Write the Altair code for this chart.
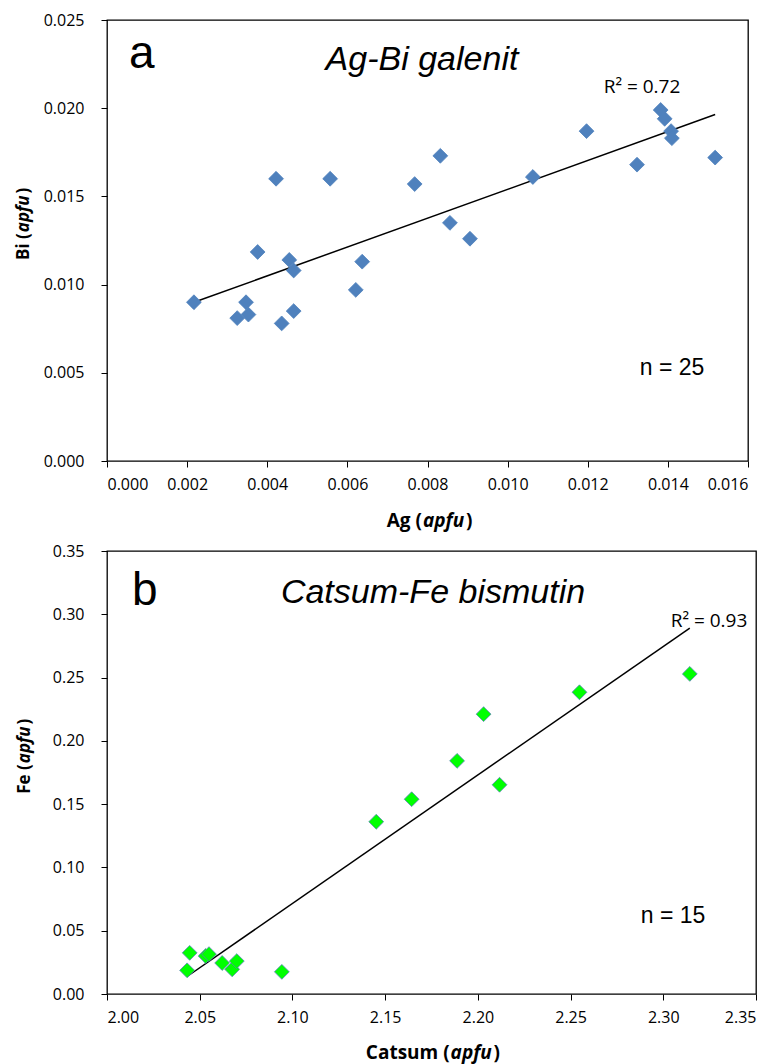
import altair as alt
import pandas as pd

# ---- panel a: Ag-Bi galenit ----
ag = [0.00217, 0.00325, 0.00347, 0.00353, 0.00376, 0.00436, 0.00455, 0.00466,
      0.00466, 0.00621, 0.00637, 0.00906, 0.00422, 0.00557, 0.00768, 0.00832,
      0.00856, 0.01063, 0.01197, 0.01323, 0.01382, 0.01392, 0.01408, 0.01410,
      0.01518]
bi = [0.0090, 0.0081, 0.0090, 0.0083, 0.01185, 0.0078, 0.0114, 0.0108,
      0.0085, 0.0097, 0.0113, 0.0126, 0.0160, 0.0160, 0.0157, 0.0173,
      0.0135, 0.0161, 0.0187, 0.0168, 0.0199, 0.0194, 0.0187, 0.0183,
      0.0172]
ag_ticks = [0.000, 0.002, 0.004, 0.006, 0.008, 0.010, 0.012, 0.014, 0.016]
bi_ticks = [0.000, 0.005, 0.010, 0.015, 0.020, 0.025]

# ---- panel b: Catsum-Fe bismutin ----
catsum = [2.0432, 2.0446, 2.0532, 2.0550, 2.0621, 2.0675, 2.0700, 2.0943,
          2.1452, 2.1643, 2.1888, 2.2031, 2.2117, 2.2548, 2.3143]
fe = [0.0187, 0.0325, 0.0300, 0.0315, 0.0245, 0.0195, 0.0260, 0.0175,
      0.1361, 0.1539, 0.1842, 0.2211, 0.1653, 0.2384, 0.2529]
cs_ticks = [2.00, 2.05, 2.10, 2.15, 2.20, 2.25, 2.30, 2.35]
fe_ticks = [0.00, 0.05, 0.10, 0.15, 0.20, 0.25, 0.30, 0.35]

LBL = "Open Sans"
ARIAL = "Liberation Sans"


def txt(text, x, y, size, font=ARIAL, style="normal", weight="normal",
        align="left", angle=0):
    df = pd.DataFrame({"t": [text]})
    return alt.Chart(df).mark_text(
        font=font, fontSize=size, fontStyle=style, fontWeight=weight,
        align=align, baseline="alphabetic", angle=angle, color="black"
    ).encode(text="t:N", x=alt.value(x), y=alt.value(y))


def axis_title_h(left, ital, right, cx, y, size, w_left, w_ital, w_right):
    start = cx - (w_left + w_ital + w_right) / 2
    p = start + w_left
    return [
        txt(left, p, y, size, font=LBL, weight="bold", align="right"),
        txt(ital, p + 1, y, size, font=LBL, weight="bold", style="italic"),
        txt(right, p + w_ital + 2, y, size, font=LBL, weight="bold"),
    ]


def axis_title_v(left, ital, right, x, cy, size, w_left, w_ital, w_right):
    start = cy + (w_left + w_ital + w_right) / 2
    q = start - w_left
    return [
        txt(left, x, q, size, font=LBL, weight="bold", align="right", angle=270),
        txt(ital, x, q - 1, size, font=LBL, weight="bold", style="italic",
            align="left", angle=270),
        txt(right, x, q - w_ital - 2, size, font=LBL, weight="bold",
            align="left", angle=270),
    ]


def panel(df, xf, yf, xdom, ydom, xt, yt, fx, fy, w, h, fill, stroke, ann):
    base = alt.Chart(df)
    xenc = alt.X(f"{xf}:Q", scale=alt.Scale(domain=xdom, nice=False, zero=False),
                 axis=alt.Axis(values=xt, format=fx, title=None, labelPadding=9))
    yenc = alt.Y(f"{yf}:Q", scale=alt.Scale(domain=ydom, nice=False, zero=False),
                 axis=alt.Axis(values=yt, format=fy, title=None, labelPadding=17))
    line = base.transform_regression(xf, yf).mark_line(
        color="black", strokeWidth=1.5).encode(x=xenc, y=yenc)
    pts = base.mark_point(shape="diamond", filled=True, size=220, fill=fill,
                          stroke=stroke, strokeWidth=0.8, opacity=1).encode(
        x=alt.X(f"{xf}:Q"), y=alt.Y(f"{yf}:Q"))
    return alt.layer(line, pts, *ann).properties(width=w, height=h)


ann_a = [
    txt("a", 22, 48, 46),
    txt("Ag-Bi galenit", 315, 50, 34, style="italic", align="center"),
    txt("R\u00b2 = 0.72", 535, 73, 19, font=LBL, align="center"),
    txt("n = 25", 565, 355, 23, align="center"),
] + axis_title_h("Ag (", "apfu", ")", 321, 507, 19, 36.7, 42, 6.8) \
  + axis_title_v("Bi (", "apfu", ")", -78, 205, 17, 27.4, 37.7, 6.1)

ann_b = [
    txt("b", 25, 54, 46),
    txt("Catsum-Fe bismutin", 326, 52, 34, style="italic", align="center"),
    txt("R\u00b2 = 0.93", 602, 76, 19, font=LBL, align="center"),
    txt("n = 15", 566, 372, 23, align="center"),
] + axis_title_h("Catsum (", "apfu", ")", 326, 508, 19, 82, 42, 6.8) \
  + axis_title_v("Fe (", "apfu", ")", -77, 206, 17, 29.4, 37.7, 6.1)

top = panel(pd.DataFrame({"Ag": ag, "Bi": bi}), "Ag", "Bi", [0, 0.016], [0, 0.025],
            ag_ticks, bi_ticks, ".3f", ".3f", 641, 441, "#4F81BD", "#4F81BD", ann_a)
bot = panel(pd.DataFrame({"Catsum": catsum, "Fe": fe}), "Catsum", "Fe",
            [2.0, 2.35], [0, 0.35], cs_ticks, fe_ticks, ".2f", ".2f",
            649, 443, "#00FF00", "#5B83B8", ann_b)

chart = alt.vconcat(top, bot, spacing=10).properties(
    padding={"left": 6, "top": 3, "right": 5, "bottom": 5}
).configure_view(stroke="black", strokeWidth=1.3).configure_axis(
    labelFont=LBL, labelFontSize=16, labelColor="black", tickColor="black",
    tickSize=6, grid=False, domain=False
)

chart.save("out.html", embed_options={"renderer": "svg", "actions": False})
